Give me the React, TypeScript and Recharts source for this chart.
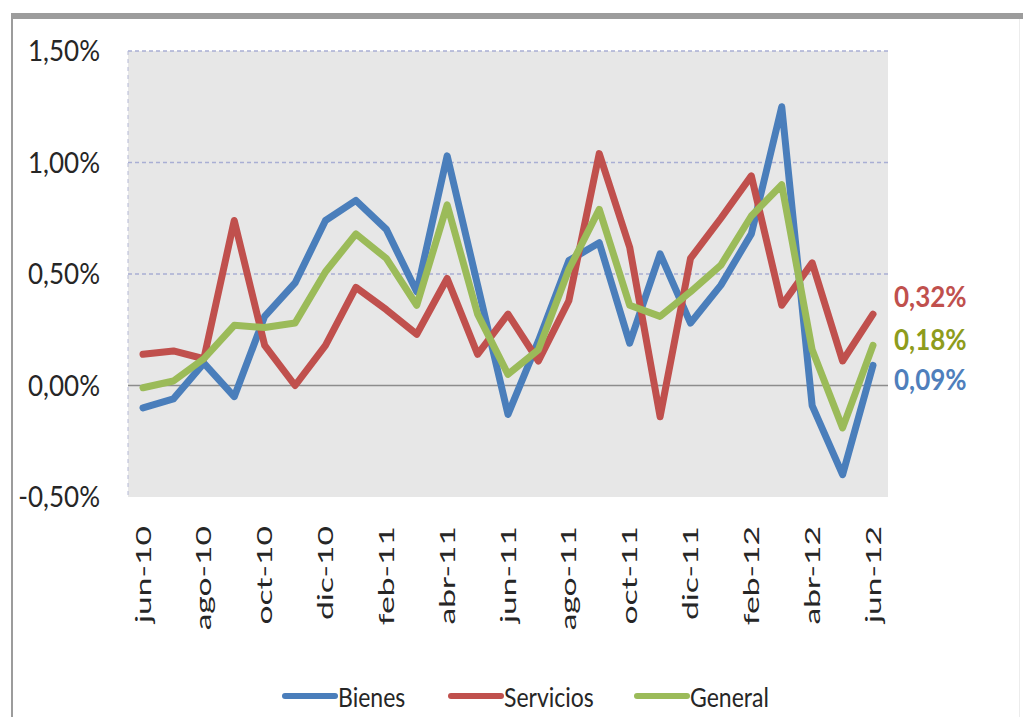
import React from "react";
import { LineChart, Line, XAxis, YAxis, CartesianGrid, ReferenceLine, LabelList } from "recharts";

// Monthly variation (%), jun-10 .. jun-12
const months = [
  "jun-10", "jul-10", "ago-10", "sep-10", "oct-10", "nov-10", "dic-10",
  "ene-11", "feb-11", "mar-11", "abr-11", "may-11", "jun-11", "jul-11",
  "ago-11", "sep-11", "oct-11", "nov-11", "dic-11", "ene-12", "feb-12",
  "mar-12", "abr-12", "may-12", "jun-12",
];

const bienes = [
  -0.10, -0.06, 0.10, -0.05, 0.31, 0.46, 0.74, 0.83, 0.70, 0.42, 1.03, 0.45,
  -0.13, 0.20, 0.56, 0.64, 0.19, 0.59, 0.28, 0.45, 0.68, 1.25, -0.09, -0.40, 0.09,
];

const servicios = [
  0.14, 0.155, 0.12, 0.74, 0.18, 0.00, 0.18, 0.44, 0.34, 0.23, 0.48, 0.14,
  0.32, 0.11, 0.38, 1.04, 0.62, -0.14, 0.57, 0.75, 0.94, 0.36, 0.55, 0.11, 0.32,
];

const general = [
  -0.01, 0.02, 0.12, 0.27, 0.26, 0.28, 0.51, 0.68, 0.57, 0.36, 0.81, 0.32,
  0.05, 0.16, 0.52, 0.79, 0.36, 0.31, 0.42, 0.54, 0.76, 0.90, 0.16, -0.19, 0.18,
];

const yTicks = [-0.5, 0, 0.5, 1, 1.5];

const data = months.map((m, i) => ({
  month: m,
  Bienes: bienes[i],
  Servicios: servicios[i],
  General: general[i],
}));

const series = [
  { key: "Bienes", color: "#4a7ebb", labelColor: "#4f7fbc", labelDy: 14 },
  { key: "Servicios", color: "#c0504d", labelColor: "#c0504d", labelDy: -18 },
  { key: "General", color: "#9bbb59", labelColor: "#8e9c1c", labelDy: -6 },
];

const FONT = "Lato, 'Open Sans', sans-serif";
const TEXT = "#262626";

const fmt = (v: number) => v.toFixed(2).replace(".", ",") + "%";

const XTick = (props: any) => {
  const { x, y, payload } = props;
  return (
    <text
      transform={`translate(${x},${y + 29}) rotate(-90) scale(1.6,1)`}
      textAnchor="end"
      dy="0.36em"
      fontFamily={FONT}
      fontSize={21}
      fill={TEXT}
    >
      {payload.value}
    </text>
  );
};

const YTick = (props: any) => {
  const { x, y, payload } = props;
  return (
    <text
      transform={`translate(${x},${y}) scale(1,1.1)`}
      textAnchor="end"
      dy="0.36em"
      fontFamily={FONT}
      fontSize={26}
      fill={TEXT}
    >
      {fmt(payload.value)}
    </text>
  );
};

const makeEndLabel = (color: string, dy: number) => (props: any) => {
  const { x, y, value, index } = props;
  if (index !== months.length - 1) return null;
  return (
    <text
      transform={`translate(${x + 21},${y + dy}) scale(1,1.12)`}
      dy="0.36em"
      fontFamily={FONT}
      fontWeight={700}
      fontSize={26}
      fill={color}
    >
      {fmt(value)}
    </text>
  );
};

const legendPos = [282, 448, 634];

export default function App() {
  return (
    <div
      style={{
        position: "absolute",
        left: 0,
        top: 0,
        width: 1023,
        height: 717,
        background: "#ffffff",
        overflow: "hidden",
      }}
    >
      {/* frame */}
      <div style={{ position: "absolute", left: 11, top: 13, width: 1012, height: 6, background: "#9c9c9c" }} />
      <div style={{ position: "absolute", left: 11, top: 13, width: 2, height: 704, background: "#9c9c9c" }} />
      <div style={{ position: "absolute", left: 1019, top: 19, width: 1, height: 698, background: "#ececec" }} />

      <div style={{ position: "absolute", left: 0, top: 0 }}>
        <LineChart
          width={1023}
          height={717}
          data={data}
          margin={{ top: 51, right: 135, bottom: 80, left: 28 }}
        >
          <CartesianGrid
            vertical={false}
            horizontalValues={[0.5, 1, 1.5]}
            stroke="#a9aed4"
            strokeDasharray="4 3"
            strokeWidth={1.5}
            fill="#e7e7e7"
          />
          <XAxis
            dataKey="month"
            interval={1}
            padding={{ left: 15, right: 15 }}
            axisLine={false}
            tickLine={false}
            tickSize={0}
            tickMargin={0}
            height={140}
            tick={<XTick />}
          />
          <YAxis
            domain={[-0.5, 1.5]}
            ticks={yTicks}
            width={100}
            axisLine={{ stroke: "#b6bad6", strokeDasharray: "4 4" }}
            tickLine={false}
            tickSize={0}
            tickMargin={28}
            tick={<YTick />}
          />
          <ReferenceLine y={0} stroke="#8c8c8c" strokeWidth={1.5} />
          {series.map((s) => (
            <Line
              key={s.key}
              type="linear"
              dataKey={s.key}
              stroke={s.color}
              strokeWidth={7}
              strokeLinejoin="round"
              strokeLinecap="round"
              dot={false}
              activeDot={false}
              isAnimationActive={false}
            >
              <LabelList dataKey={s.key} content={makeEndLabel(s.labelColor, s.labelDy)} />
            </Line>
          ))}
        </LineChart>
      </div>

      {/* legend */}
      {series.map((s, i) => (
        <div
          key={s.key}
          style={{
            position: "absolute",
            left: legendPos[i],
            top: 680,
            height: 32,
            display: "flex",
            alignItems: "center",
          }}
        >
          <div style={{ width: 56, height: 6, borderRadius: 3, background: s.color }} />
          <span
            style={{
              fontFamily: FONT,
              fontSize: 23,
              color: TEXT,
              display: "inline-block",
              transform: "scale(1,1.2)",
              lineHeight: "32px",
            }}
          >
            {s.key}
          </span>
        </div>
      ))}
    </div>
  );
}
